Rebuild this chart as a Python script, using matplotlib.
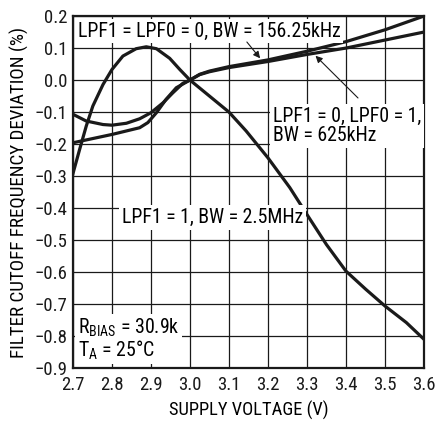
import matplotlib
matplotlib.use("Agg")
import matplotlib.pyplot as plt
from matplotlib import font_manager

# pick a condensed sans if one is installed (reference uses Helvetica Condensed)
names = {f.name for f in font_manager.fontManager.ttflist}
wanted = ['Nimbus Sans Narrow', 'Liberation Sans Narrow', 'Arial Narrow',
          'Roboto Condensed', 'Archivo Narrow', 'Barlow Semi Condensed', 'Liberation Sans']
font = next(n for n in wanted if n in names)
plt.rcParams['font.family'] = [font, 'DejaVu Sans']

# Curves (supply voltage V vs deviation %)
v_2p5 = [2.70, 2.717, 2.734, 2.751, 2.777, 2.80, 2.828, 2.862, 2.888, 2.914, 2.948, 2.974,
         3.00, 3.05, 3.10, 3.144, 3.20, 3.256, 3.30, 3.35, 3.40, 3.451, 3.50, 3.555, 3.60]
dev_2p5 = [-0.292, -0.217, -0.144, -0.081, -0.014, 0.033, 0.075, 0.098, 0.104, 0.098, 0.068, 0.033,
           0.0, -0.05, -0.10, -0.159, -0.243, -0.336, -0.42, -0.514, -0.597, -0.654, -0.706, -0.758, -0.81]

v_156 = [2.70, 2.80, 2.871, 2.892, 2.914, 2.939, 2.965, 3.00, 3.025, 3.05, 3.10,
         3.20, 3.30, 3.40, 3.50, 3.60]
dev_156 = [-0.196, -0.17, -0.149, -0.133, -0.102, -0.06, -0.024, 0.0, 0.018, 0.028, 0.042,
           0.063, 0.09, 0.12, 0.157, 0.20]

v_625 = [2.70, 2.734, 2.777, 2.80, 2.837, 2.871, 2.90, 2.931, 2.956, 2.982, 3.00, 3.025, 3.05,
         3.10, 3.20, 3.30, 3.40, 3.50, 3.60]
dev_625 = [-0.107, -0.128, -0.139, -0.141, -0.135, -0.121, -0.102, -0.071, -0.04, -0.01, 0.0, 0.017, 0.026,
           0.039, 0.058, 0.08, 0.10, 0.125, 0.15]

x_ticks = [2.7, 2.8, 2.9, 3.0, 3.1, 3.2, 3.3, 3.4, 3.5, 3.6]
y_ticks = [0.2, 0.1, 0.0, -0.1, -0.2, -0.3, -0.4, -0.5, -0.6, -0.7, -0.8, -0.9]

fig = plt.figure(figsize=(4.37, 4.23), dpi=100)
ax = fig.add_axes([0.167, 0.130, 0.803, 0.832])

for v, d in [(v_2p5, dev_2p5), (v_156, dev_156), (v_625, dev_625)]:
    ax.plot(v, d, color='#1a1a1a', lw=2.3, solid_joinstyle='round', zorder=3)

ax.set_xlim(2.7, 3.6)
ax.set_ylim(-0.9, 0.2)
ax.set_xticks(x_ticks)
ax.set_xticklabels([f"{t:.1f}" for t in x_ticks])
ax.set_yticks(y_ticks)
ax.set_yticklabels([f"{t:.1f}".replace("-", "\u2212") for t in y_ticks])
ax.tick_params(length=0, labelsize=13.5, colors='#1a1a1a')
ax.tick_params(axis='x', pad=6)
ax.tick_params(axis='y', pad=4)
ax.grid(True, color='#1a1a1a', lw=0.9)
for s in ax.spines.values():
    s.set_linewidth(1.6)
    s.set_color('#1a1a1a')

ax.set_xlabel("SUPPLY VOLTAGE (V)", fontsize=13.3, labelpad=5)
ax.set_ylabel("FILTER CUTOFF FREQUENCY DEVIATION (%)", fontsize=13.7, labelpad=4)

box = dict(facecolor='white', edgecolor='none', pad=2.0)
ax.text(2.712, 0.153, "LPF1 = LPF0 = 0, BW = 156.25kHz", fontsize=14.3,
        va='center', ha='left', bbox=box, zorder=4)
ax.text(3.213, -0.144, "LPF1 = 0, LPF0 = 1,\nBW = 625kHz", fontsize=14.3,
        va='center', ha='left', bbox=box, zorder=4, linespacing=1.0)
ax.text(2.826, -0.43, "LPF1 = 1, BW = 2.5MHz", fontsize=14.3,
        va='center', ha='left', bbox=box, zorder=4)
ax.text(2.712, -0.81, "R$_{\\mathregular{BIAS}}$ = 30.9k\nT$_{\\mathregular{A}}$ = 25\u00b0C", fontsize=14.3,
        va='center', ha='left', bbox=box, zorder=4, linespacing=0.95)

arrow = dict(arrowstyle='-|>', color='#1a1a1a', lw=0.8, mutation_scale=10, shrinkA=0, shrinkB=0)
ax.annotate("", xy=(3.18, 0.068), xytext=(3.146, 0.119), arrowprops=arrow, zorder=5)
ax.annotate("", xy=(3.322, 0.076), xytext=(3.431, -0.056), arrowprops=arrow, zorder=5)

fig.savefig("out.png", dpi=100)
